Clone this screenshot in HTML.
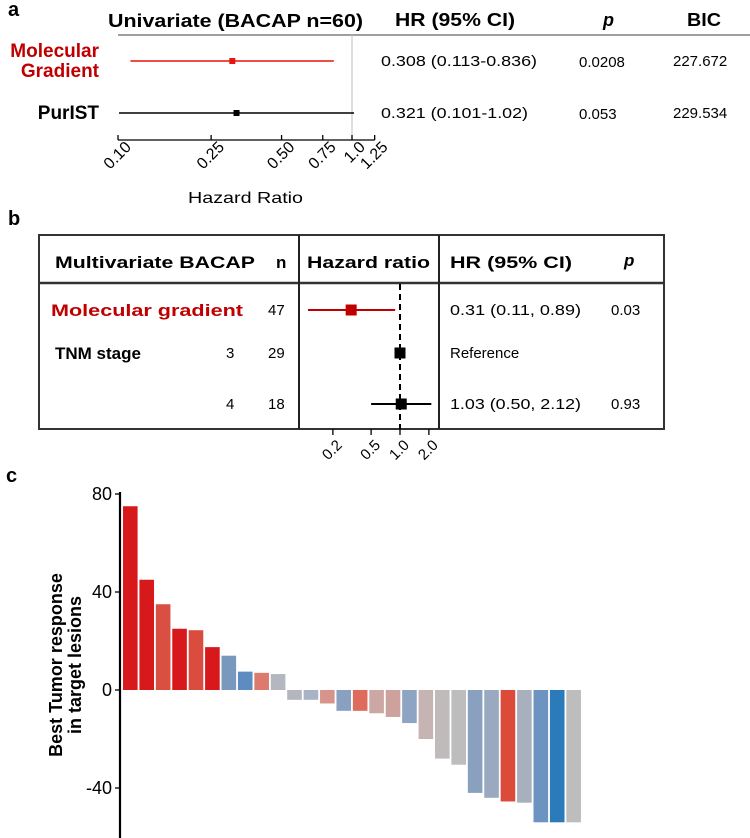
<!DOCTYPE html>
<html><head><meta charset="utf-8"><style>
html,body{margin:0;padding:0;background:#fff;}
svg{display:block;font-family:"Liberation Sans",Arial,sans-serif;}
</style></head><body>
<svg id="fig" width="750" height="838" viewBox="0 0 750 838" xmlns="http://www.w3.org/2000/svg">
<!-- Panel a -->
<g id="pa">
<text x="8" y="16" font-size="20" font-weight="bold">a</text>
<text x="108" y="27" font-size="18" font-weight="bold" textLength="255" lengthAdjust="spacingAndGlyphs">Univariate (BACAP n=60)</text>
<text x="395" y="26" font-size="18" font-weight="bold" textLength="120" lengthAdjust="spacingAndGlyphs">HR (95% CI)</text>
<text x="603" y="26" font-size="18" font-weight="bold" font-style="italic">p</text>
<text x="687" y="26" font-size="18" font-weight="bold" textLength="34" lengthAdjust="spacingAndGlyphs">BIC</text>
<line x1="118" y1="35" x2="750" y2="35" stroke="#666" stroke-width="1.2"/>
<line x1="352" y1="35" x2="352" y2="140" stroke="#c8c8c8" stroke-width="1.2"/>
<text x="99" y="57" font-size="19" font-weight="bold" fill="#c00000" text-anchor="end">Molecular</text>
<text x="99" y="77" font-size="19" font-weight="bold" fill="#c00000" text-anchor="end">Gradient</text>
<text x="99" y="119" font-size="19" font-weight="bold" text-anchor="end">PurIST</text>
<text x="381" y="66" font-size="15" textLength="156" lengthAdjust="spacingAndGlyphs">0.308 (0.113-0.836)</text>
<text x="579" y="67" font-size="15">0.0208</text>
<text x="673" y="66" font-size="15">227.672</text>
<text x="381" y="118" font-size="15" textLength="147" lengthAdjust="spacingAndGlyphs">0.321 (0.101-1.02)</text>
<text x="579" y="119" font-size="15">0.053</text>
<text x="673" y="118" font-size="15">229.534</text>
<text x="188" y="203" font-size="16" textLength="115" lengthAdjust="spacingAndGlyphs">Hazard Ratio</text>
</g>
<!-- Panel b -->
<g id="pb">
<text x="8" y="225" font-size="20" font-weight="bold">b</text>
<rect x="39" y="235" width="625" height="194" fill="none" stroke="#333" stroke-width="2"/>
<line x1="39" y1="283" x2="664" y2="283" stroke="#333" stroke-width="2.5"/>
<line x1="299" y1="235" x2="299" y2="429" stroke="#222" stroke-width="2"/>
<line x1="439" y1="235" x2="439" y2="429" stroke="#222" stroke-width="2"/>
<text x="55" y="268" font-size="17" font-weight="bold" textLength="200" lengthAdjust="spacingAndGlyphs">Multivariate BACAP</text>
<text x="276" y="268" font-size="17" font-weight="bold">n</text>
<text x="307" y="268" font-size="17" font-weight="bold" textLength="123" lengthAdjust="spacingAndGlyphs">Hazard ratio</text>
<text x="450" y="268" font-size="17" font-weight="bold" textLength="122" lengthAdjust="spacingAndGlyphs">HR (95% CI)</text>
<text x="624" y="266" font-size="17" font-weight="bold" font-style="italic">p</text>
<text x="51" y="316" font-size="17" font-weight="bold" fill="#c00000" textLength="192" lengthAdjust="spacingAndGlyphs">Molecular gradient</text>
<text x="268" y="315" font-size="15">47</text>
<text x="450" y="315" font-size="15" textLength="131" lengthAdjust="spacingAndGlyphs">0.31 (0.11, 0.89)</text>
<text x="611" y="315" font-size="15">0.03</text>
<text x="55" y="359" font-size="17" font-weight="bold">TNM stage</text>
<text x="226" y="358" font-size="15">3</text>
<text x="268" y="358" font-size="15">29</text>
<text x="450" y="358" font-size="15">Reference</text>
<text x="226" y="409" font-size="15">4</text>
<text x="268" y="409" font-size="15">18</text>
<text x="450" y="409" font-size="15" textLength="131" lengthAdjust="spacingAndGlyphs">1.03 (0.50, 2.12)</text>
<text x="611" y="409" font-size="15">0.93</text>
</g>
<!-- Panel c -->
<g id="pc">
<text x="6" y="482" font-size="20" font-weight="bold">c</text>
<g transform="translate(62,665) rotate(-90)">
<text x="0" y="0" font-size="18" font-weight="bold" text-anchor="middle">Best Tumor response</text>
<text x="0" y="19" font-size="18" font-weight="bold" text-anchor="middle">in target lesions</text>
</g>
</g>
</svg>
<script>
// Panel a data
const aLabels = ["Molecular Gradient", "PurIST"];
const aHR = [0.308, 0.321];
const aLow = [0.113, 0.101];
const aHigh = [0.836, 1.02];
const aTicks = [0.10, 0.25, 0.50, 0.75, 1.0, 1.25];
const aTickLabels = ["0.10", "0.25", "0.50", "0.75", "1.0", "1.25"];
// Panel b data
const bRows = ["Molecular gradient", "TNM stage 3", "TNM stage 4"];
const bHR = [0.31, 1.0, 1.03];
const bLow = [0.11, null, 0.50];
const bHigh = [0.89, null, 2.12];
const bTicks = [0.2, 0.5, 1.0, 2.0];
const bTickLabels = ["0.2", "0.5", "1.0", "2.0"];
// Panel c data
const cValues = [75, 45, 35, 25, 24.4, 17.5, 14, 7.5, 7, 6.5, -4, -4, -5.5, -8.5, -8.5, -9.5, -11, -13.5, -20, -28, -30.5, -42, -44, -45.5, -46, -54, -54, -54];
const cColors = ["#d7191c","#d7191c","#d94f41","#d7191c","#d94c3e","#d7191c","#7899bd","#5f8cc0","#db7a6d","#b4b6c0","#b3b5bf","#a8b3c6","#d7948a","#89a0c1","#de6b5c","#cca8a4","#cda19c","#8ea4c3","#c6b4b4","#bfbbbb","#bdbdbd","#8aa0bf","#9aa9c0","#dc4b3a","#a8b0be","#6d93c0","#2b7bba","#bdbdbd"];
const cTicks = [80, 40, 0, -40];
const cTickLabels = ["80", "40", "0", "-40"];

const NS = "http://www.w3.org/2000/svg";
function mk(tag, attrs, parent){ const e=document.createElementNS(NS,tag); for(const k in attrs) e.setAttribute(k,attrs[k]); parent.appendChild(e); return e; }

// ---- Panel a
const pa = document.getElementById('pa');
const ax = v => 118 + 234 * Math.log10(v / 0.1);
const aRowY = [61, 113];
const aCol = ["#e8140f", "#000"];
for (let i = 0; i < aHR.length; i++) {
  const l = mk('line', {x1: ax(aLow[i]), x2: ax(aHigh[i]), y1: aRowY[i], y2: aRowY[i], stroke: aCol[i], 'stroke-width': 1.6}, pa);
  
  
  const s = mk('rect', {x: ax(aHR[i]) - 3, y: aRowY[i] - 3, width: 6, height: 6, fill: aCol[i]}, pa);
  
  
}
const aAxis = mk('line', {x1: ax(aTicks[0]), x2: ax(aTicks[aTicks.length-1]), y1: 140, y2: 140, stroke: '#000', 'stroke-width': 1.3}, pa);


aTicks.forEach((t, i) => {
  const x = ax(t);
  const tk = mk('line', {x1: x, x2: x, y1: 135, y2: 140, stroke: '#000', 'stroke-width': 1.3}, pa);
  
  
  const tx = mk('text', {x: 0, y: 0, 'font-size': 16, 'text-anchor': 'end', transform: `translate(${x+14},${148}) rotate(-45)`}, pa);
  tx.textContent = aTickLabels[i];
  
  
});

// ---- Panel b
const pb = document.getElementById('pb');
const bx = v => 400 + 96 * Math.log10(v);
const bRowY = [310, 353, 404];
const bCol = ["#c00000", "#000", "#000"];
const dash = mk('line', {x1: bx(1), x2: bx(1), y1: 284, y2: 429, stroke: '#000', 'stroke-width': 2, 'stroke-dasharray': '6,4'}, pb);


for (let i = 0; i < bHR.length; i++) {
  if (bLow[i] !== null) {
    const l = mk('line', {x1: bx(bLow[i]), x2: bx(bHigh[i]), y1: bRowY[i], y2: bRowY[i], stroke: bCol[i], 'stroke-width': 2}, pb);
    
    
  }
  const sz = 11;
  const s = mk('rect', {x: bx(bHR[i]) - sz/2, y: bRowY[i] - sz/2, width: sz, height: sz, fill: bCol[i]}, pb);
  
  
}
bTicks.forEach((t, i) => {
  const x = bx(t);
  const tk = mk('line', {x1: x, x2: x, y1: 429, y2: 435, stroke: '#000', 'stroke-width': 1.3}, pb);
  
  
  const tx = mk('text', {x: 0, y: 0, 'font-size': 15, 'text-anchor': 'end', transform: `translate(${x+10},${446}) rotate(-45)`}, pb);
  tx.textContent = bTickLabels[i];
  
  
});

// ---- Panel c
const pc = document.getElementById('pc');
const cy = v => 690 - v * 2.45;
const cx = i => 123 + i * 16.42;
const bw = 14.6;
cValues.forEach((v, i) => {
  const y0 = cy(Math.max(v, 0)), y1 = cy(Math.min(v, 0));
  const r = mk('rect', {x: cx(i), y: y0, width: bw, height: y1 - y0, fill: cColors[i]}, pc);
  
  
});
const yAxis = mk('line', {x1: 120, x2: 120, y1: 492, y2: 838, stroke: '#000', 'stroke-width': 2.2}, pc);


cTicks.forEach((t, i) => {
  const y = cy(t);
  const tk = mk('line', {x1: 115, x2: 120, y1: y, y2: y, stroke: '#000', 'stroke-width': 1.3}, pc);
  
  
  const tx = mk('text', {x: 112, y: y + 6, 'font-size': 18, 'text-anchor': 'end'}, pc);
  tx.textContent = cTickLabels[i];
  
  
});
</script>
</body></html>
